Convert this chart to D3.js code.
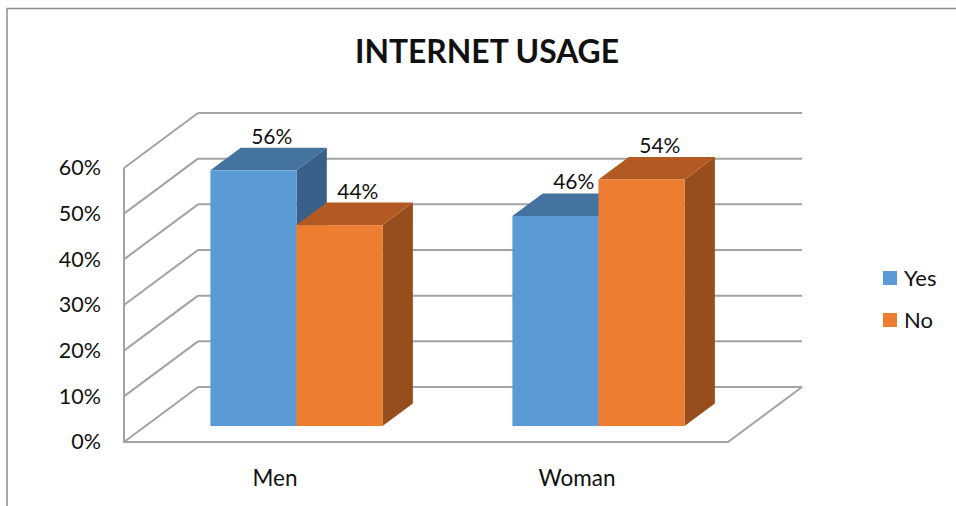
<!DOCTYPE html>
<html>
<head>
<meta charset="utf-8">
<script src="https://cdn.jsdelivr.net/npm/d3@7"></script>
<style>
  body { margin: 0; background: #fff; }
  text { font-family: Lato, "Open Sans", sans-serif; fill: #111; }
</style>
</head>
<body>
<div id="chart"></div>
<script>
const categories = ['Men', 'Woman'];
const seriesNames = ['Yes', 'No'];
const yesValues = [0.56, 0.46];
const noValues = [0.44, 0.54];
const yTicks = [0, 0.1, 0.2, 0.3, 0.4, 0.5, 0.6];

const W = 956, H = 506;
// front plane of the 3d box, and the depth offset to the back wall
const plot = { left: 124, right: 728, bottom: 442, top: 168 };
const depth = { dx: 74, dy: -55 };
const barDepth = { from: 0.29, to: 0.70 };

const colors = {
  Yes: { front: '#5b9bd5', top: '#44739f', side: '#386089' },
  No: { front: '#ed7d31', top: '#b25a22', side: '#984e1c' }
};
const gridColor = '#a3a3a3';

const svg = d3.select('#chart').append('svg')
  .attr('width', W).attr('height', H);

// outer border (only the left and top edges show in the picture)
svg.append('rect')
  .attr('x', 7).attr('y', 8.5).attr('width', W + 20).attr('height', H + 20)
  .attr('fill', 'none').attr('stroke', '#8c8c8c').attr('stroke-width', 1.5);

svg.append('text')
  .attr('x', 487).attr('y', 63)
  .attr('text-anchor', 'middle')
  .attr('font-size', 32).attr('font-weight', 'bold')
  .attr('textLength', 264).attr('lengthAdjust', 'spacingAndGlyphs')
  .text('INTERNET USAGE');

const y = d3.scaleLinear().domain([0, 0.6]).range([plot.bottom, plot.top]);
const x0 = d3.scaleBand().domain(categories).range([plot.left, plot.right]);
const x1 = d3.scaleBand().domain(seriesNames)
  .range([-x0.bandwidth() * 0.285, x0.bandwidth() * 0.285]);

// point on the box at depth t (0 front .. 1 back)
const at = (px, py, t) => [px + depth.dx * t, py + depth.dy * t];

const grid = svg.append('g')
  .attr('fill', 'none').attr('stroke', gridColor).attr('stroke-width', 2);

// back wall gridlines
grid.selectAll('line.back').data(yTicks).enter().append('line')
  .attr('class', 'back')
  .attr('x1', plot.left + depth.dx).attr('x2', plot.right + depth.dx)
  .attr('y1', d => y(d) + depth.dy).attr('y2', d => y(d) + depth.dy);

// side wall diagonals
grid.selectAll('line.side').data(yTicks).enter().append('line')
  .attr('class', 'side')
  .attr('x1', plot.left).attr('x2', plot.left + depth.dx)
  .attr('y1', d => y(d)).attr('y2', d => y(d) + depth.dy);

// side wall front edge and floor
grid.append('path')
  .attr('d', d3.line()([
    [plot.left, y(0.6)], [plot.left, y(0)], [plot.right, y(0)],
    [plot.right + depth.dx, y(0) + depth.dy]
  ]));

// y axis labels
svg.append('g')
  .attr('transform', `translate(${plot.left},0)`)
  .call(d3.axisLeft(y).tickValues(yTicks).tickFormat(d3.format('.0%'))
    .tickSize(0).tickPadding(23))
  .call(g => g.select('.domain').remove())
  .call(g => g.selectAll('text').attr('font-size', 21.5)
    .attr('font-family', 'Lato, sans-serif').attr('fill', '#111'));

// x axis labels
svg.append('g')
  .attr('transform', `translate(0,${plot.bottom})`)
  .call(d3.axisBottom(x0).tickSize(0).tickPadding(28))
  .call(g => g.select('.domain').remove())
  .call(g => g.selectAll('text').attr('font-size', 22.5)
    .attr('font-family', 'Lato, sans-serif').attr('fill', '#111'));

// bars
const bars = [];
categories.forEach((c, i) => {
  bars.push({ cat: c, series: 'Yes', value: yesValues[i] });
  bars.push({ cat: c, series: 'No', value: noValues[i] });
});

const barG = svg.append('g');
bars.forEach(b => {
  const xl = x0(b.cat) + x0.bandwidth() / 2 + x1(b.series);
  const xr = xl + x1.bandwidth();
  const yt = y(b.value), yb = y(0);
  const t0 = barDepth.from, t1 = barDepth.to;
  const col = colors[b.series];
  const g = barG.append('g');
  const poly = pts => 'M' + pts.map(p => p.join(',')).join('L') + 'Z';

  g.append('path').attr('fill', col.side)
    .attr('d', poly([at(xr, yt, t0), at(xr, yt, t1), at(xr, yb, t1), at(xr, yb, t0)]));
  g.append('path').attr('fill', col.top)
    .attr('d', poly([at(xl, yt, t0), at(xl, yt, t1), at(xr, yt, t1), at(xr, yt, t0)]));
  const f0 = at(xl, yt, t0), f1 = at(xr, yb, t0);
  g.append('rect').attr('fill', col.front)
    .attr('x', f0[0]).attr('y', f0[1])
    .attr('width', f1[0] - f0[0]).attr('height', f1[1] - f0[1]);

  const lab = at((xl + xr) / 2, yt, t1);
  b.lx = lab[0] - 12;
  b.ly = lab[1] - 4;
});

svg.append('g').selectAll('text').data(bars).enter().append('text')
  .attr('x', d => d.lx).attr('y', d => d.ly)
  .attr('text-anchor', 'middle').attr('font-size', 21)
  .text(d => d3.format('.0%')(d.value));

// legend
const legend = svg.append('g').attr('transform', 'translate(883,271)');
const li = legend.selectAll('g').data(seriesNames).enter().append('g')
  .attr('transform', (d, i) => `translate(0,${i * 42})`);
li.append('rect').attr('width', 14).attr('height', 14)
  .attr('fill', d => colors[d].front);
li.append('text').attr('x', 21).attr('y', 15).attr('font-size', 22)
  .text(d => d);
</script>
</body>
</html>
